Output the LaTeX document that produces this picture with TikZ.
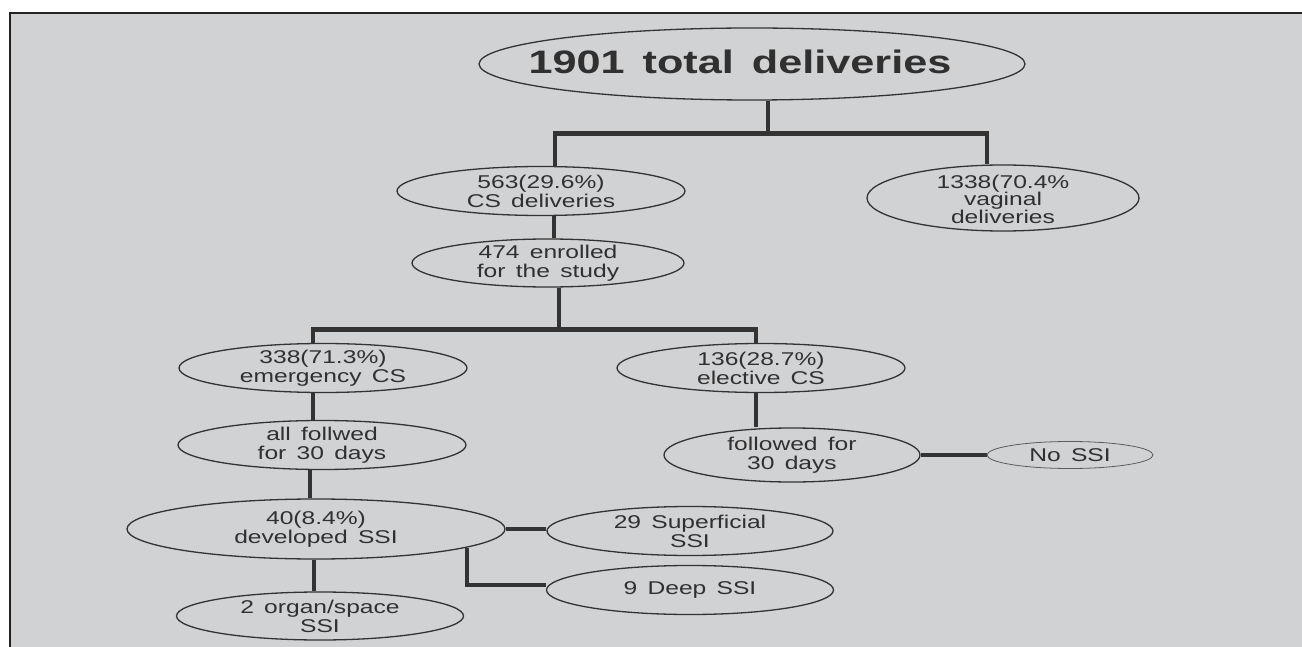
\documentclass[tikz,border=0pt]{standalone}
\usepackage{fontspec}
\newfontfamily\labfont{Liberation Sans}[FakeStretch=1.33,WordSpace=1.5]
\usetikzlibrary{shapes.geometric,calc}
\definecolor{bgc}{HTML}{D1D2D4}
\definecolor{linec}{HTML}{333333}
\definecolor{textc}{HTML}{303030}
\definecolor{framec}{HTML}{222222}
\pgfdeclarelayer{back}
\pgfdeclarelayer{mid}
\pgfsetlayers{back,mid,main}
\tikzset{
  ell/.style={draw=linec, line width=1.3pt, ellipse, fill=bgc, inner sep=0pt},
  lab/.style={font=\labfont\fontsize{18.5}{19}\selectfont, text=textc, align=center, inner sep=0pt},
  conn/.style={draw=linec, line width=4.6pt},
}
\begin{document}
\begin{tikzpicture}[x=1pt,y=-1pt]
\useasboundingbox (0,0) rectangle (1302,647);
\begin{pgfonlayer}{back}
\fill[white] (0,0) rectangle (1302,647);
\fill[bgc] (10,13) rectangle (1302,647);
\draw[line width=2.5pt, framec] (10,647) -- (10,13) -- (1302,13);
\end{pgfonlayer}

\node[ell, minimum width=546pt, minimum height=72pt,
  label={[lab, font=\labfont\bfseries\fontsize{32.5}{36}\selectfont, yshift=2pt, xshift=-12pt]center:1901 total deliveries}] (top) at (752,64) {};
\node[ell, minimum width=288pt, minimum height=49pt,
  label={[lab]center:563(29.6\%)\\CS deliveries}] (cs) at (541,191) {};
\node[ell, minimum width=272pt, minimum height=66pt,
  label={[lab, font=\labfont\fontsize{18.5}{17.5}\selectfont, yshift=-1pt]center:1338(70.4\%\\vaginal\\deliveries}] (vag) at (1003,198) {};
\node[ell, minimum width=272pt, minimum height=48pt,
  label={[lab]center:474 enrolled\\for the study}] (enr) at (548,263) {};
\node[ell, minimum width=288pt, minimum height=49pt,
  label={[lab]center:338(71.3\%)\\emergency CS}] (emg) at (323,368) {};
\node[ell, minimum width=288pt, minimum height=49pt,
  label={[lab]center:136(28.7\%)\\elective CS}] (ele) at (761,368) {};
\node[ell, minimum width=288pt, minimum height=49pt,
  label={[lab]center:all follwed\\for 30 days}] (allf) at (322,445) {};
\node[ell, minimum width=256pt, minimum height=54pt,
  label={[lab]center:followed for\\30 days}] (fol) at (792,455) {};
\node[ell, draw=linec!80, line width=0.8pt, minimum width=166pt, minimum height=27pt,
  label={[lab]center:No SSI}] (nossi) at (1070,455) {};
\node[ell, minimum width=378pt, minimum height=60pt,
  label={[lab]center:40(8.4\%)\\developed SSI}] (dev) at (316,529) {};
\node[ell, minimum width=286pt, minimum height=49pt,
  label={[lab]center:29 Superficial\\SSI}] (sup) at (690,531) {};
\node[ell, minimum width=287pt, minimum height=49pt,
  label={[lab]center:9 Deep SSI}] (deep) at (690,590) {};
\node[ell, minimum width=287pt, minimum height=48pt,
  label={[lab]center:2 organ/space\\SSI}] (org) at (320,616) {};

\coordinate (j1) at ($(top.south)+(16,33)$);
\coordinate (j2) at ($(enr.south)+(11,42)$);

\begin{pgfonlayer}{mid}
\draw[conn] ([xshift=16pt]top.south) -- (j1);
\draw[conn] ([xshift=14pt]cs.north) |- (j1) -| ([xshift=-16pt]vag.north);
\draw[conn] ([xshift=13pt]cs.south) -- ([xshift=6pt]enr.north);
\draw[conn] ([xshift=11pt]enr.south) -- (j2);
\draw[conn] ([xshift=-10pt]emg.north) |- (j2) -| ([xshift=-5pt]ele.north);
\draw[conn] ([xshift=-10pt]emg.south) -- ([xshift=-9pt]allf.north);
\draw[conn] ([xshift=-12pt]allf.south) -- ([xshift=-6pt]dev.north);
\draw[conn] ([xshift=-2pt]dev.south) -- ([xshift=-6pt]org.north);
\draw[conn] (dev.east) -- (dev.east -| sup.west);
\draw[conn] (dev.-7.2) |- ([yshift=5pt]deep.west);
\draw[conn] ([xshift=-5pt]ele.south) -- ([xshift=-36pt]fol.north);
\draw[conn] (fol.east) -- (nossi.west);
\end{pgfonlayer}
\end{tikzpicture}
\end{document}
